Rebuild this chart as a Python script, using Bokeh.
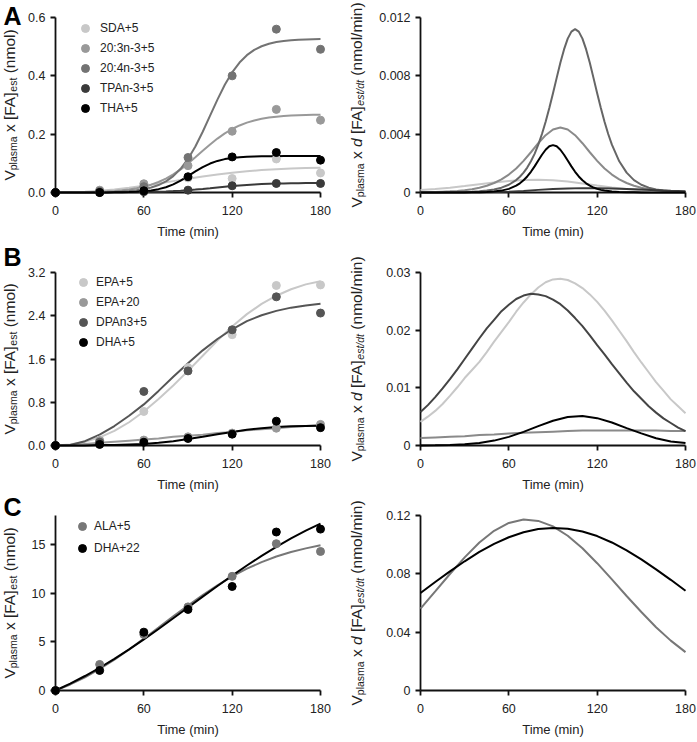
import math
from bokeh.plotting import figure
from bokeh.layouts import column, row
from bokeh.models import Range1d, FixedTicker, NumeralTickFormatter, Legend, LegendItem
from bokeh.core.properties import value
from bokeh.embed import file_html
from bokeh.resources import INLINE

FONT = "Liberation Sans"

# ---------------- data ----------------
x_ticks = [0, 60, 120, 180]
t_obs = [0, 30, 60, 90, 120, 150, 180]
t5 = [0, 5, 10, 15, 20, 25, 30, 35, 40, 45, 50, 55, 60, 65, 70, 75, 80, 85, 90,
      95, 100, 105, 110, 115, 120, 125, 130, 135, 140, 145, 150, 155, 160, 165, 170, 175, 180]
t10 = [0, 10, 20, 30, 40, 50, 60, 70, 80, 90, 100, 110, 120, 130, 140, 150, 160, 170, 180]
tf = [0, 5, 10, 15, 20, 25, 30, 35, 40, 45, 50, 55, 60, 65,
      67.5, 70, 72.5, 75, 77.5, 80, 82.5, 85, 87.5, 90, 92.5, 95, 97.5, 100, 102.5, 105,
      107.5, 110, 112.5, 115, 117.5, 120, 122.5, 125, 127.5, 130,
      135, 140, 145, 150, 155, 160, 165, 170, 175, 180]

# Panel A (left): cumulative, nmol
a_names = ["SDA+5", "20:3n-3+5", "20:4n-3+5", "TPAn-3+5", "THA+5"]
a_colors = ["#c8c8c8", "#999999", "#737373", "#3a3a3a", "#000000"]
a_obs_sda = [0, 0.005, 0.012, 0.05, 0.048, 0.115, 0.067]
a_obs_203 = [0, 0.008, 0.03, 0.092, 0.21, 0.285, 0.248]
a_obs_204 = [0, 0.004, 0.02, 0.12, 0.40, 0.56, 0.491]
a_obs_tpa = [0, 0.0, 0.003, 0.008, 0.023, 0.031, 0.031]
a_obs_tha = [0, 0.0, 0.006, 0.054, 0.122, 0.137, 0.111]
a_fit_sda = [0, 0.001, 0.003, 0.006, 0.010, 0.016, 0.023, 0.031, 0.039, 0.047, 0.055,
             0.062, 0.068, 0.073, 0.077, 0.080, 0.082, 0.084, 0.085]
a_fit_203 = [0.0004, 0.0006, 0.0008, 0.0011, 0.0015, 0.0021, 0.0029, 0.0040, 0.0055, 0.0076,
             0.0105, 0.0145, 0.0198, 0.0268, 0.0359, 0.0476, 0.0621, 0.0794, 0.0991, 0.1207,
             0.1429, 0.1647, 0.1849, 0.2027, 0.2177, 0.2299, 0.2396, 0.2470, 0.2526, 0.2568,
             0.2599, 0.2621, 0.2638, 0.2649, 0.2658, 0.2664, 0.2669]
a_fit_204 = [0.0001, 0.0001, 0.0002, 0.0003, 0.0004, 0.0006, 0.0009, 0.0014, 0.0021, 0.0032,
             0.0049, 0.0074, 0.0113, 0.0170, 0.0256, 0.0382, 0.0562, 0.0815, 0.1151, 0.1578,
             0.2083, 0.2635, 0.3186, 0.3693, 0.4120, 0.4456, 0.4708, 0.4888, 0.5014, 0.5100,
             0.5158, 0.5196, 0.5221, 0.5238, 0.5249, 0.5256, 0.5261]
a_fit_tpa = [0, 0.0001, 0.0001, 0.0001, 0.0001, 0.0002, 0.0003, 0.0004, 0.0005, 0.0007,
             0.0009, 0.0012, 0.0016, 0.0022, 0.0029, 0.0038, 0.0049, 0.0063, 0.0080, 0.0100,
             0.0123, 0.0147, 0.0172, 0.0197, 0.0220, 0.0241, 0.0260, 0.0275, 0.0288, 0.0298,
             0.0306, 0.0312, 0.0316, 0.0320, 0.0322, 0.0324, 0.0326]
a_fit_tha = [0, 0, 0, 0, 0.0001, 0.0001, 0.0002, 0.0003, 0.0006, 0.0009,
             0.0016, 0.0026, 0.0043, 0.0071, 0.0115, 0.0182, 0.0279, 0.0407, 0.0560, 0.0722,
             0.0871, 0.0993, 0.1083, 0.1145, 0.1186, 0.1211, 0.1226, 0.1236, 0.1242, 0.1245,
             0.1247, 0.1248, 0.1249, 0.1249, 0.1250, 0.1250, 0.1250]

# Panel A (right): rate, nmol/min
a_rate_sda = [0.00017, 0.00024, 0.00033, 0.00044, 0.00056, 0.00068, 0.00079, 0.00086, 0.00088,
              0.00084, 0.00075, 0.00062, 0.00048, 0.00035, 0.00024, 0.00015, 0.00009, 0.00005, 0.00003]
a_rate_203 = [0.00002, 0.00003, 0.00004, 0.00006, 0.00008, 0.00011, 0.00016, 0.00023, 0.00033, 0.00046,
              0.00065, 0.00090, 0.00123, 0.00165, 0.00217, 0.00276, 0.00338, 0.00393, 0.00432, 0.00446,
              0.00432, 0.00393, 0.00338, 0.00276, 0.00217, 0.00165, 0.00123, 0.00090, 0.00065, 0.00046,
              0.00033, 0.00023, 0.00016, 0.00011, 0.00008, 0.00006, 0.00004]
a_rate_204 = [0, 0, 0, 0.00001, 0.00001, 0.00002, 0.00003, 0.00005, 0.00008, 0.00013,
              0.00020, 0.00033, 0.00053, 0.00085,
              0.00108, 0.00136, 0.00171, 0.00214, 0.00265, 0.00328, 0.00401, 0.00485, 0.00579, 0.00681,
              0.00786, 0.00889, 0.00981, 0.01055, 0.01103, 0.01120, 0.01103, 0.01055, 0.00981, 0.00889,
              0.00786, 0.00681, 0.00579, 0.00485, 0.00401, 0.00328,
              0.00214, 0.00136, 0.00085, 0.00053, 0.00033, 0.00020, 0.00013, 0.00008, 0.00005, 0.00003]
a_rate_tpa = [0, 0, 0.00001, 0.00001, 0.00002, 0.00003, 0.00006, 0.00011, 0.00018, 0.00024,
              0.00028, 0.00030, 0.00030, 0.00028, 0.00024, 0.00020, 0.00016, 0.00012, 0.00009]
a_rate_tha = [0, 0, 0, 0, 0, 0, 0, 0.00001, 0.00002, 0.00004,
              0.00007, 0.00013, 0.00025, 0.00047,
              0.00063, 0.00084, 0.00110, 0.00142, 0.00179, 0.00219, 0.00259, 0.00293, 0.00317, 0.00325,
              0.00317, 0.00293, 0.00259, 0.00219, 0.00179, 0.00142, 0.00110, 0.00084, 0.00063, 0.00047,
              0.00034, 0.00025, 0.00018, 0.00013, 0.00010, 0.00007,
              0.00004, 0.00002, 0.00001, 0, 0, 0, 0, 0, 0, 0]

# Panel B
b_names = ["EPA+5", "EPA+20", "DPAn3+5", "DHA+5"]
b_colors = ["#c8c8c8", "#999999", "#555555", "#000000"]
b_obs_epa5 = [0, 0.10, 0.63, 1.44, 2.05, 2.96, 2.97]
b_obs_epa20 = [0, 0.09, 0.10, 0.16, 0.23, 0.32, 0.39]
b_obs_dpa = [0, 0.06, 1.00, 1.38, 2.14, 2.75, 2.45]
b_obs_dha = [0, 0.02, 0.06, 0.13, 0.21, 0.45, 0.33]
b_fit_epa5 = [0, 0.02, 0.07, 0.15, 0.27, 0.43, 0.63, 0.86, 1.11, 1.38, 1.66, 1.94, 2.20, 2.43,
              2.62, 2.77, 2.89, 2.98, 3.04]
b_fit_epa20 = [0, 0.01, 0.03, 0.05, 0.07, 0.09, 0.11, 0.13, 0.16, 0.18, 0.20, 0.23, 0.25, 0.28,
               0.30, 0.32, 0.34, 0.36, 0.38]
b_fit_dpa = [0, 0.01, 0.08, 0.20, 0.36, 0.55, 0.76, 1.01, 1.27, 1.52, 1.76, 1.97, 2.15, 2.30,
             2.41, 2.49, 2.55, 2.59, 2.62]
b_fit_dha = [0, 0, 0, 0.01, 0.01, 0.02, 0.03, 0.05, 0.08, 0.12, 0.16, 0.21, 0.25, 0.29,
             0.32, 0.34, 0.355, 0.36, 0.365]
b_rate_epa5 = [0.0041, 0.0050, 0.0060, 0.0072, 0.0086, 0.0101, 0.0117, 0.0131, 0.0145, 0.0162,
               0.0180, 0.0197, 0.0214, 0.0232, 0.0248, 0.0262, 0.0274, 0.0283, 0.0288, 0.0289,
               0.0287, 0.0281, 0.0273, 0.0262, 0.0249, 0.0234, 0.0217, 0.0199, 0.0181, 0.0162,
               0.0144, 0.0127, 0.0110, 0.0095, 0.0080, 0.0068, 0.0056]
b_rate_epa20 = [0.0013, 0.0014, 0.0015, 0.0016, 0.0018, 0.0019, 0.0021, 0.0022, 0.0023, 0.0024,
                0.0025, 0.0026, 0.0026, 0.0026, 0.0026, 0.0026, 0.0026, 0.0025, 0.0025]
b_rate_dpa = [0.0058, 0.0070, 0.0084, 0.0099, 0.0115, 0.0132, 0.0150, 0.0168, 0.0186, 0.0203,
              0.0218, 0.0233, 0.0244, 0.0254, 0.0260, 0.0263, 0.0262, 0.0259, 0.0253, 0.0245,
              0.0234, 0.0221, 0.0207, 0.0191, 0.0174, 0.0158, 0.0141, 0.0125, 0.0109, 0.0094,
              0.0081, 0.0068, 0.0057, 0.0047, 0.0039, 0.0031, 0.0025]
b_rate_dha = [0.00001, 0.00003, 0.00008, 0.0002, 0.00044, 0.00085, 0.0015, 0.00237, 0.00336, 0.0043,
              0.00493, 0.0051, 0.00474, 0.00398, 0.00302, 0.0021, 0.00127, 0.00071, 0.00042]

# Panel C
c_names = ["ALA+5", "DHA+22"]
c_colors = ["#777777", "#000000"]
c_obs_ala = [0, 2.68, 5.77, 8.6, 11.74, 15.1, 14.3]
c_obs_dha = [0, 2.06, 6.0, 8.34, 10.7, 16.3, 16.6]
c_fit_ala = [0, 0.62, 1.36, 2.22, 3.18, 4.22, 5.33, 6.47, 7.62, 8.74, 9.82, 10.82, 11.73, 12.53,
             13.21, 13.78, 14.25, 14.62, 14.93]
c_fit_dha = [0, 0.71, 1.49, 2.34, 3.26, 4.23, 5.26, 6.33, 7.43, 8.54, 9.65, 10.75, 11.82, 12.86,
             13.85, 14.78, 15.64, 16.44, 17.16]
c_rate_ala = [0.0562, 0.0680, 0.0799, 0.0913, 0.1015, 0.1095, 0.1149, 0.1172, 0.1163, 0.1125,
              0.1061, 0.0975, 0.0873, 0.0762, 0.0648, 0.0538, 0.0434, 0.0342, 0.0263]
c_rate_dha = [0.0669, 0.0744, 0.0817, 0.0886, 0.0950, 0.1005, 0.1051, 0.1085, 0.1107, 0.1115,
              0.1109, 0.1090, 0.1059, 0.1015, 0.0961, 0.0899, 0.0831, 0.0759, 0.0684]

# axis ticks
a_left_ticks = [0, 0.2, 0.4, 0.6]
a_right_ticks = [0, 0.004, 0.008, 0.012]
b_left_ticks = [0, 0.8, 1.6, 2.4, 3.2]
b_right_ticks = [0, 0.01, 0.02, 0.03]
c_left_ticks = [0, 5, 10, 15]
c_right_ticks = [0, 0.04, 0.08, 0.12]

# ---------------- helpers ----------------
AW = {'V': 667, 'p': 556, 'l': 222, 'a': 556, 's': 500, 'm': 833, ' ': 278, 'x': 500,
      '[': 278, 'F': 611, 'A': 667, ']': 278, 'e': 556, 't': 278, '(': 333, 'n': 556,
      'o': 556, ')': 333, 'd': 556, '/': 278, 'i': 222}


def tw(s, size):
    return sum(AW.get(c, 556) for c in s) * size / 1000.0


TXT = "#222222"
FRAME_H = 175


def make_fig(width, height, bl, br, bt, bb, ymax, yticks, yfmt):
    p = figure(width=width, height=height, x_range=Range1d(0, 180), y_range=Range1d(0, ymax),
               output_backend="svg", toolbar_location=None, title=None,
               min_border_left=bl, min_border_right=br, min_border_top=bt, min_border_bottom=bb)
    p.outline_line_color = None
    p.xgrid.visible = False
    p.ygrid.visible = False
    p.background_fill_color = "white"
    p.border_fill_color = "white"
    for ax in (p.xaxis[0], p.yaxis[0]):
        ax.axis_line_width = 1.8
        ax.axis_line_color = "#111111"
        ax.major_tick_line_width = 1.8
        ax.major_tick_line_color = "#111111"
        ax.major_tick_out = 5
        ax.major_tick_in = 0
        ax.minor_tick_out = 0
        ax.minor_tick_in = 0
        ax.major_label_text_font = FONT
        ax.major_label_text_font_size = "12.5px"
        ax.major_label_text_color = TXT
    p.xaxis.major_label_standoff = 8
    p.yaxis.major_label_standoff = 5
    p.xaxis.ticker = FixedTicker(ticks=x_ticks)
    p.yaxis.ticker = FixedTicker(ticks=yticks)
    p.yaxis.formatter = NumeralTickFormatter(format=yfmt)
    p.xaxis.axis_label = "Time (min)"
    p.xaxis.axis_label_text_font = FONT
    p.xaxis.axis_label_text_font_size = "13px"
    p.xaxis.axis_label_text_font_style = "normal"
    p.xaxis.axis_label_text_color = TXT
    p.xaxis.axis_label_standoff = 6
    return p


def put_text(p, ymid, txt, dx, dy_up, size, style, color=TXT, rotated=True):
    # anchored at (0, ymid) inside the frame; offsets in screen pixels
    p.text(x=[0], y=[ymid], text=[txt], x_offset=dx, y_offset=-dy_up,
           angle=math.pi / 2 if rotated else 0,
           text_font=value(FONT), text_font_size=value(f"{size}px"), text_font_style=value(style),
           text_color=color, text_baseline=value("alphabetic"), text_align=value("left"),
           level="overlay")


def y_title(p, ymax, pieces, base_dx, main=15.5, sub=10.5, shift=3.0):
    total = sum(tw(t, sub if s else main) for t, s, it in pieces)
    pos = (FRAME_H - total) / 2.0
    for t, s, it in pieces:
        size = sub if s else main
        lead = len(t) - len(t.lstrip(' '))
        start = pos + tw(' ' * lead, size)
        put_text(p, ymax / 2.0, t.strip(' '), base_dx + (shift if s else 0), start - FRAME_H / 2.0,
                 size, "italic" if it else "normal")
        pos += tw(t, size)


LEFT_T = [("V", False, False), ("plasma", True, False), (" x [FA]", False, False),
          ("est", True, False), (" (nmol)", False, False)]
RIGHT_T = [("V", False, False), ("plasma", True, False), (" x ", False, False),
           ("d", False, True), (" [FA]", False, False), ("est/dt", True, True),
           (" (nmol/min)", False, False)]


def panel_letter(p, letter, ymax, dy_up):
    put_text(p, ymax, letter, -52, dy_up, 25, "bold", "#000000", rotated=False)


def add_legend(p, names, rends, vx, vy, spacing, standoff):
    leg = Legend(items=[LegendItem(label=n, renderers=[r]) for n, r in zip(names, rends)],
                 location=(vx, vy), border_line_color=None, background_fill_alpha=0,
                 padding=0, margin=0, spacing=spacing, glyph_width=20, glyph_height=20,
                 label_height=20, label_standoff=standoff, label_text_font=FONT,
                 label_text_font_size="12px", label_text_color=TXT)
    p.add_layout(leg)


def draw_cum(p, fits, obs, colors):
    for (tx, yy), c in zip(fits, colors):
        p.line(tx, yy, line_color=c, line_width=2, level="overlay")
    rends = []
    for yy, c in zip(obs, colors):
        rends.append(p.scatter(t_obs, yy, size=8, fill_color=c, line_color=c, level="overlay"))
    return rends


def draw_rate(p, rates, colors):
    for (tx, yy), c in zip(rates, colors):
        p.line(tx, yy, line_color=c, line_width=2, level="overlay")


LW, RW = 346, 351
LB, LR = 55, 26
RB, RR = 74, 12
H1, H2, H3 = 243, 251, 247
L_DX, R_DX = -46, -64

# Row A
pa1 = make_fig(LW, H1, LB, LR, 17, H1 - 17 - FRAME_H, 0.6, a_left_ticks, "0.0")
ra = draw_cum(pa1,
              [(t10, a_fit_sda), (t5, a_fit_203), (t5, a_fit_204), (t5, a_fit_tpa), (t5, a_fit_tha)],
              [a_obs_sda, a_obs_203, a_obs_204, a_obs_tpa, a_obs_tha], a_colors)
add_legend(pa1, a_names, ra, 20, 74, 0, 5)
y_title(pa1, 0.6, LEFT_T, L_DX)
panel_letter(pa1, "A", 0.6, 2)

pa2 = make_fig(RW, H1, RB, RR, 17, H1 - 17 - FRAME_H, 0.012, a_right_ticks, "0.[000]")
draw_rate(pa2, [(t10, a_rate_sda), (t5, a_rate_203), (tf, a_rate_204), (t10, a_rate_tpa), (tf, a_rate_tha)],
          ["#c8c8c8", "#8a8a8a", "#666666", "#3a3a3a", "#000000"])
y_title(pa2, 0.012, RIGHT_T, R_DX)

# Row B
pb1 = make_fig(LW, H2, LB, LR, 29, H2 - 29 - FRAME_H, 3.2, b_left_ticks, "0.0")
rb = draw_cum(pb1, [(t10, b_fit_epa5), (t10, b_fit_epa20), (t10, b_fit_dpa), (t10, b_fit_dha)],
              [b_obs_epa5, b_obs_epa20, b_obs_dpa, b_obs_dha], b_colors)
add_legend(pb1, b_names, rb, 18, 93, 0, 3)
y_title(pb1, 3.2, LEFT_T, L_DX)
panel_letter(pb1, "B", 3.2, 16)

pb2 = make_fig(RW, H2, RB, RR, 29, H2 - 29 - FRAME_H, 0.03, b_right_ticks, "0.[00]")
draw_rate(pb2, [(t5, b_rate_epa5), (t10, b_rate_epa20), (t5, b_rate_dpa), (t10, b_rate_dha)],
          ["#c8c8c8", "#8a8a8a", "#444444", "#000000"])
y_title(pb2, 0.03, RIGHT_T, R_DX)

# Row C
pc1 = make_fig(LW, H3, LB, LR, 21, H3 - 21 - FRAME_H, 18, c_left_ticks, "0")
rc = draw_cum(pc1, [(t10, c_fit_ala), (t10, c_fit_dha)], [c_obs_ala, c_obs_dha], c_colors)
add_legend(pc1, c_names, rc, 17, 132, 2, 2)
y_title(pc1, 18, LEFT_T, L_DX)
panel_letter(pc1, "C", 18, 9)

pc2 = make_fig(RW, H3, RB, RR, 21, H3 - 21 - FRAME_H, 0.12, c_right_ticks, "0.[00]")
draw_rate(pc2, [(t10, c_rate_ala), (t10, c_rate_dha)], c_colors)
y_title(pc2, 0.12, RIGHT_T, R_DX)

layout = column(row(pa1, pa2), row(pb1, pb2), row(pc1, pc2))

with open("out.html", "w") as f:
    f.write(file_html(layout, INLINE))
